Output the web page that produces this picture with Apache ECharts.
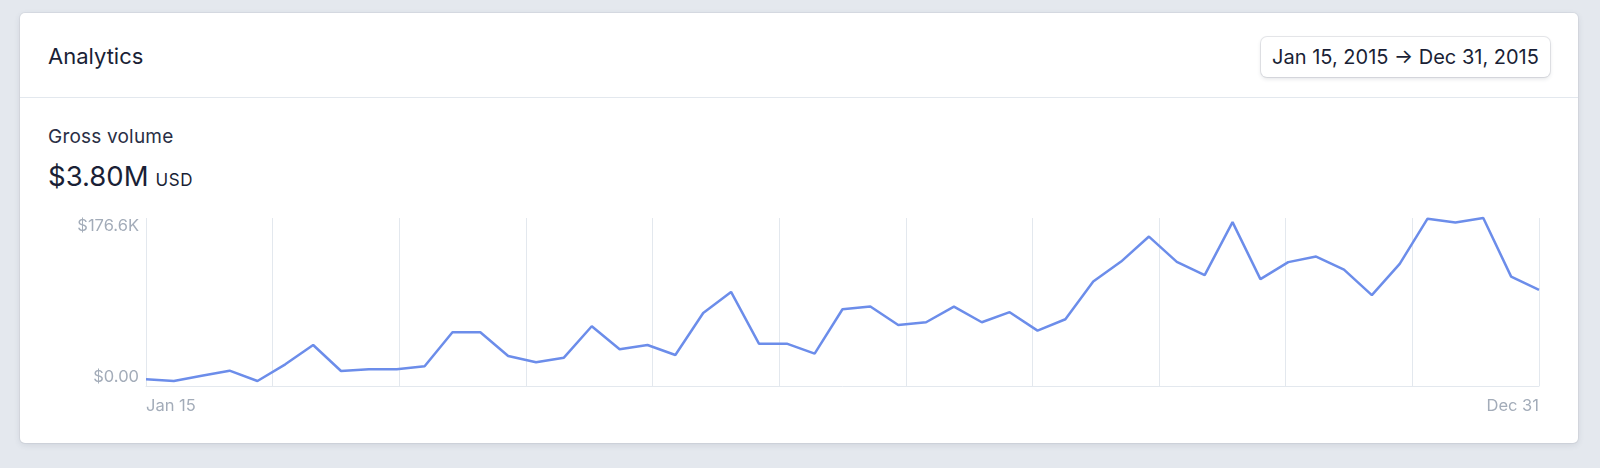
<!DOCTYPE html>
<html>
<head>
<meta charset="utf-8">
<script src="https://cdn.jsdelivr.net/npm/echarts@6/dist/echarts.min.js"></script>
<style>
  html, body { margin: 0; padding: 0; }
  body {
    width: 1600px; height: 468px; overflow: hidden; position: relative;
    background: #e4e8ee; font-family: Inter, "Noto Sans", sans-serif; color: #1a1f36;
  }
  .card {
    position: absolute; left: 20px; top: 13px; width: 1558px; height: 430px;
    background: #fff; border-radius: 5px;
    box-shadow: 0 0 0 1px rgba(60,66,87,0.06), 0 2px 6px rgba(60,66,87,0.12);
  }
  .head { position: absolute; left: 0; top: 0; width: 100%; height: 84px; border-bottom: 1px solid #e3e8ee; }
  .title { position: absolute; left: 28px; top: 29px; font-size: 22px; line-height: 28px; }
  .range {
    position: absolute; left: 1241px; top: 24px; width: 289px; height: 40px;
    border-radius: 6px; background: #fff; font-size: 20px; line-height: 40px; text-align: center;
    box-shadow: 0 0 0 1px rgba(60,66,87,0.12), 0 2px 4px rgba(60,66,87,0.14);
  }
  .label { position: absolute; left: 28px; top: 112px; font-size: 19px; letter-spacing: 0.2px; line-height: 24px; color: #2a2f45; }
  .total { position: absolute; left: 28px; top: 146px; font-size: 27.5px; line-height: 34px; }
  .total span { font-size: 17px; letter-spacing: 0.6px; margin-left: 7px; }
  #chart { position: absolute; left: 0; top: 0; width: 1600px; height: 468px; }
</style>
</head>
<body>
<div class="card">
  <div class="head">
    <div class="title">Analytics</div>
    <div class="range">Jan 15, 2015 → Dec 31, 2015</div>
  </div>
  <div class="label">Gross volume</div>
  <div class="total">$3.80M<span>USD</span></div>
</div>
<div id="chart"></div>
<script>
// weekly points, Jan 15 -> Dec 31 2015
const weeks = [
  'Jan 15','Jan 22','Jan 29','Feb 5','Feb 12','Feb 19','Feb 26','Mar 5','Mar 12','Mar 19','Mar 26',
  'Apr 2','Apr 9','Apr 16','Apr 23','Apr 30','May 7','May 14','May 21','May 28',
  'Jun 4','Jun 11','Jun 18','Jun 25','Jul 2','Jul 9','Jul 16','Jul 23','Jul 30',
  'Aug 6','Aug 13','Aug 20','Aug 27','Sep 3','Sep 10','Sep 17','Sep 24',
  'Oct 1','Oct 8','Oct 15','Oct 22','Oct 29','Nov 5','Nov 12','Nov 19','Nov 26',
  'Dec 3','Dec 10','Dec 17','Dec 24','Dec 31'
];

// gross volume per week, USD
const volume = [
  7100, 5300, 10800, 16100, 5300, 22800, 43100, 15800, 17600, 17600, 20700,
  56500, 56500, 31600, 24900, 29800, 62800, 38600, 43100, 32600,
  76800, 98900, 44500, 44500, 34000, 80700, 83500, 64200, 67000,
  83500, 67000, 77600, 58200, 70200, 109800, 130800, 157100,
  130500, 116500, 172300, 112300, 130200, 136100, 122400, 95500, 128400,
  175900, 171900, 176600, 115000, 101000
];

const yMax = 176600;
const yTickLabels = ['$0.00', '$176.6K'];
const gridSections = 11;

const muted = '#a3acb9';
const gridColor = '#e3e8ee';

const myChart = echarts.init(document.getElementById('chart'));

myChart.setOption({
  animation: false,
  grid: { left: 146, right: 61, top: 218, bottom: 82 },
  xAxis: [
    {
      type: 'category',
      data: weeks,
      boundaryGap: false,
      axisTick: { show: false },
      axisLine: { lineStyle: { color: gridColor, width: 1 } },
      splitLine: { show: false },
      axisLabel: {
        interval: (idx) => idx === 0 || idx === weeks.length - 1,
        alignMinLabel: 'left',
        alignMaxLabel: 'right',
        color: muted,
        fontFamily: 'Inter',
        fontSize: 16.5,
        margin: 12
      }
    },
    {
      // evenly spaced vertical guides
      type: 'value',
      min: 0,
      max: gridSections,
      interval: 1,
      position: 'bottom',
      axisLine: { show: false },
      axisTick: { show: false },
      axisLabel: { show: false },
      splitLine: { show: true, lineStyle: { color: gridColor, width: 1 } }
    }
  ],
  yAxis: {
    type: 'value',
    min: 0,
    max: yMax,
    interval: yMax,
    axisLine: { show: false },
    axisTick: { show: false },
    splitLine: { show: false },
    axisLabel: {
      formatter: (val) => (val === 0 ? yTickLabels[0] : yTickLabels[1]),
      verticalAlignMinLabel: 'bottom',
      verticalAlignMaxLabel: 'top',
      color: muted,
      fontFamily: 'Inter',
      fontSize: 16.5,
      margin: 7
    }
  },
  series: [
    {
      name: 'Gross volume',
      type: 'line',
      xAxisIndex: 0,
      data: volume,
      showSymbol: false,
      symbol: 'none',
      clip: false,
      lineStyle: { color: '#6c8dea', width: 2.5 }
    }
  ]
});
</script>
</body>
</html>
